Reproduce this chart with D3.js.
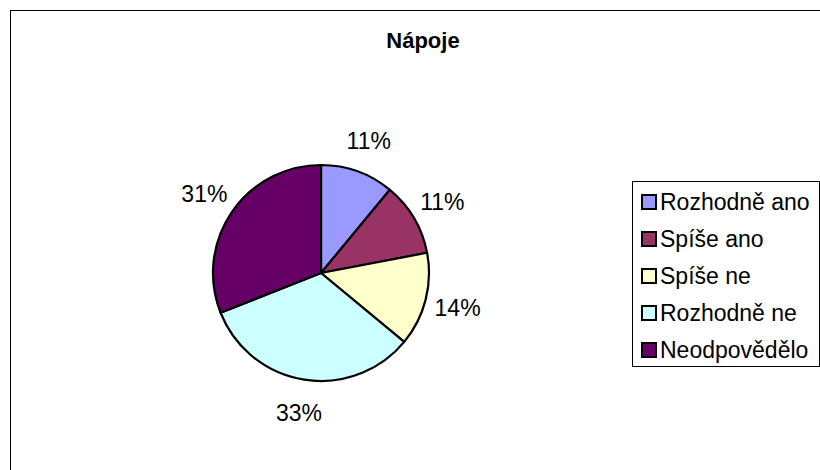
<!DOCTYPE html>
<html>
<head>
<meta charset="utf-8">
<script src="https://cdn.jsdelivr.net/npm/d3@7"></script>
<style>
  html, body { margin: 0; padding: 0; background: #fff; }
  svg { display: block; font-family: "Liberation Sans", Arial, sans-serif; }
</style>
</head>
<body>
<svg id="chart" width="820" height="470"></svg>
<script>
// Survey answers for the "Nápoje" question (share of respondents, %)
const title = "Nápoje";
const categories = ["Rozhodně ano", "Spíše ano", "Spíše ne", "Rozhodně ne", "Neodpovědělo"];
const values = [11, 11, 14, 33, 31];
const colors = ["#9999FF", "#993366", "#FFFFCC", "#CCFFFF", "#660066"];

const W = 820, H = 470;
const svg = d3.select("#chart");

// outer chart frame (runs past the right and bottom edges of the view)
svg.append("rect")
  .attr("x", 10.5).attr("y", 10.5)
  .attr("width", W + 20).attr("height", H + 20)
  .attr("fill", "#fff")
  .attr("stroke", "#000").attr("stroke-width", 1);

// title
svg.append("text")
  .attr("x", 423).attr("y", 48)
  .attr("text-anchor", "middle")
  .attr("font-size", 22).attr("font-weight", "bold")
  .attr("fill", "#000")
  .text(title);

// pie
const cx = 321, cy = 273, r = 108;
const color = d3.scaleOrdinal().domain(categories).range(colors);
const pie = d3.pie().sort(null).value(d => d.value);
const data = categories.map((c, i) => ({ name: c, value: values[i] }));
const arcs = pie(data);
const arc = d3.arc().innerRadius(0).outerRadius(r);
const labelArc = d3.arc().innerRadius(141).outerRadius(141);
const total = d3.sum(values);

const g = svg.append("g").attr("transform", `translate(${cx},${cy})`);
g.selectAll("path.slice")
  .data(arcs)
  .join("path")
  .attr("class", "slice")
  .attr("d", arc)
  .attr("fill", d => color(d.data.name))
  .attr("stroke", "#000")
  .attr("stroke-width", 2.2)
  .attr("stroke-linejoin", "round");

g.selectAll("text.pct")
  .data(arcs)
  .join("text")
  .attr("class", "pct")
  .attr("transform", d => `translate(${labelArc.centroid(d)})`)
  .attr("text-anchor", "middle")
  .attr("dy", "0.36em")
  .attr("font-size", 23)
  .attr("fill", "#000")
  .text(d => d3.format(".0%")(d.data.value / total));

// legend
const lgX = 632.5, lgY = 181.5, lgW = 187, lgH = 185;
const legend = svg.append("g");
legend.append("rect")
  .attr("x", lgX).attr("y", lgY)
  .attr("width", lgW).attr("height", lgH)
  .attr("fill", "#fff")
  .attr("stroke", "#000").attr("stroke-width", 1);

const rowY = d3.scalePoint().domain(categories).range([202, 350]);
const items = legend.selectAll("g.item")
  .data(categories)
  .join("g")
  .attr("class", "item")
  .attr("transform", d => `translate(0,${rowY(d)})`);

items.append("rect")
  .attr("x", 642).attr("y", -7)
  .attr("width", 14).attr("height", 14)
  .attr("fill", d => color(d))
  .attr("stroke", "#000").attr("stroke-width", 2);

items.append("text")
  .attr("x", 660).attr("dy", "0.36em")
  .attr("font-size", 23)
  .attr("fill", "#000")
  .text(d => d);
</script>
</body>
</html>
